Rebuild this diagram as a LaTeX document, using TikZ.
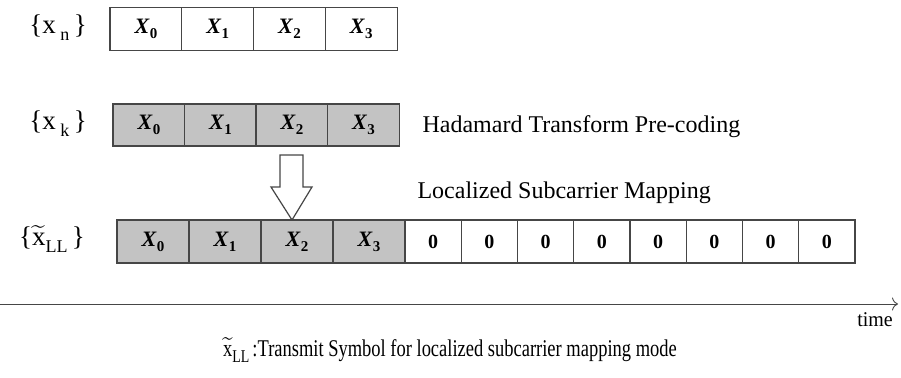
\documentclass[tikz,border=0pt]{standalone}
\usepackage{amsmath}
\usepackage{fontspec}
\setmainfont{Liberation Serif}
\usepackage{tikz}
\usetikzlibrary{arrows.meta}
\definecolor{cellgray}{RGB}{195,195,195}
\definecolor{edgegray}{RGB}{70,70,70}
\newcommand{\Xs}[1]{\textbf{\textit{X}}\raisebox{-0.5ex}{\fontsize{15}{15}\selectfont\textbf{#1}}}
\newcommand{\lowsub}[1]{\raisebox{-0.55ex}{\fontsize{18}{18}\selectfont #1}}

\begin{document}
\begin{tikzpicture}[x=1pt,y=-1pt,
    cell/.style={draw=edgegray,line width=1.2pt,inner sep=0pt,
        minimum height=43pt,font=\fontsize{22}{22}\selectfont},
    datacell/.style={cell,minimum width=72pt},
    zerocell/.style={cell,minimum width=56.25pt,fill=white,font=\fontsize{20}{20}\selectfont},
    rowlabel/.style={font=\fontsize{27}{27}\selectfont},
    note/.style={anchor=west,font=\fontsize{24}{26}\selectfont}]
    \useasboundingbox (0,0) rectangle (901,377);

    % input symbols
    \node[rowlabel] (ln) at (58,28) {\{x\,\lowsub{n}\,\}};
    \foreach \i in {0,...,3}
        \node[datacell,fill=white] (n\i) at (146+71.75*\i,29) {\Xs{\i}};

    % precoded symbols
    \node[rowlabel] (lk) at (58,124) {\{x\,\lowsub{k}\,\}};
    \foreach \i in {0,...,3}
        \node[datacell,fill=cellgray,minimum height=42pt] (k\i) at (149+71.5*\i,125) {\Xs{\i}};
    \node[note] (had) at (419,127) {Hadamard Transform Pre-coding};

    % block arrow
    \filldraw[fill=white,draw=edgegray,line width=1.2pt]
        (280,155) -- (303,155) -- (303,187) -- (312,187) -- (292,220)
        -- (271,187) -- (280,187) -- cycle;
    \node[note] (map) at (414,193) {Localized Subcarrier Mapping};

    % mapped symbols
    \node[rowlabel] (ll) at (52,239) {\{$\widetilde{\text{x}}$\lowsub{LL}\,\}};
    \foreach \i in {0,...,3}
        \node[datacell,fill=cellgray] (m\i) at (153+72*\i,241.5) {\Xs{\i}};
    \foreach \j in {0,...,7}
        \node[zerocell] (z\j) at (433.1+56.25*\j,241.5) {\textbf{0}};

    % time axis
    \coordinate (t0) at (0,304);
    \coordinate (t1) at (898,304);
    \draw[edgegray,line width=0.9pt,-{To[length=6pt,width=13pt]}] (t0) -- (t1);
    \node[font=\fontsize{21}{21}\selectfont,xscale=0.95] (time) at (875,320) {time};

    \node[font=\fontsize{24}{24}\selectfont,xscale=0.77] (cap) at (450,350)
        {$\widetilde{\text{x}}$\lowsub{LL}\,:Transmit Symbol for localized subcarrier mapping mode};
\end{tikzpicture}
\end{document}
